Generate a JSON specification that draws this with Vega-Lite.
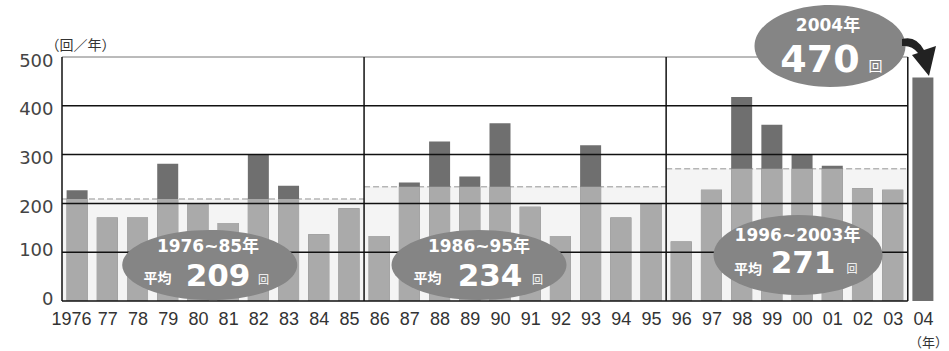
{
  "$schema": "https://vega.github.io/schema/vega-lite/v6.json",
  "width": 876,
  "height": 244,
  "autosize": {"type": "none"},
  "padding": {"left": 62, "top": 57, "right": 11, "bottom": 50},
  "background": "white",
  "config": {"view": {"stroke": null}},
  "resolve": {"axis": {"x": "independent", "y": "independent"}},
  "datasets": {
    "bars": [
      {"year": 1976, "count": 227, "avg": 209},
      {"year": 1977, "count": 171, "avg": 209},
      {"year": 1978, "count": 171, "avg": 209},
      {"year": 1979, "count": 281, "avg": 209},
      {"year": 1980, "count": 201, "avg": 209},
      {"year": 1981, "count": 160, "avg": 209},
      {"year": 1982, "count": 301, "avg": 209},
      {"year": 1983, "count": 236, "avg": 209},
      {"year": 1984, "count": 137, "avg": 209},
      {"year": 1985, "count": 190, "avg": 209},
      {"year": 1986, "count": 133, "avg": 234},
      {"year": 1987, "count": 243, "avg": 234},
      {"year": 1988, "count": 327, "avg": 234},
      {"year": 1989, "count": 255, "avg": 234},
      {"year": 1990, "count": 364, "avg": 234},
      {"year": 1991, "count": 193, "avg": 234},
      {"year": 1992, "count": 133, "avg": 234},
      {"year": 1993, "count": 319, "avg": 234},
      {"year": 1994, "count": 171, "avg": 234},
      {"year": 1995, "count": 200, "avg": 234},
      {"year": 1996, "count": 122, "avg": 271},
      {"year": 1997, "count": 228, "avg": 271},
      {"year": 1998, "count": 418, "avg": 271},
      {"year": 1999, "count": 361, "avg": 271},
      {"year": 2000, "count": 301, "avg": 271},
      {"year": 2001, "count": 277, "avg": 271},
      {"year": 2002, "count": 231, "avg": 271},
      {"year": 2003, "count": 228, "avg": 271},
      {"year": 2004, "count": 458, "avg": null}
    ],
    "periods": [
      {"start": 1975.5, "end": 1985.5, "avg": 209},
      {"start": 1985.5, "end": 1995.5, "avg": 234},
      {"start": 1995.5, "end": 2003.5, "avg": 271}
    ],
    "hgrid": [{"v": 100}, {"v": 200}, {"v": 300}, {"v": 400}, {"v": 0}],
    "vgrid": [{"v": 1975.5}, {"v": 1985.5}, {"v": 1995.5}, {"v": 2003.5}],
    "ell12": [{"x": 1980.39, "y": 73.8}, {"x": 1989.305, "y": 73.8}],
    "ell3": [{"x": 1999.866, "y": 94.3}],
    "ell4": [{"x": 2000.925, "y": 522.5}],
    "arrow": [{"x": 2003.871, "y": 497.95}],
    "captions": [
      {"x": 1980.333, "y": 100.4, "t": "1976~85年"},
      {"x": 1989.305, "y": 100.4, "t": "1986~95年"},
      {"x": 1999.849, "y": 122.0, "t": "1996~2003年"},
      {"x": 2000.859, "y": 553.3, "t": "2004年"}
    ],
    "heikin": [
      {"x": 1978.662, "y": 36.0, "t": "平均"},
      {"x": 1987.6, "y": 36.0, "t": "平均"},
      {"x": 1998.21, "y": 56.0, "t": "平均"}
    ],
    "big": [
      {"x": 1980.664, "y": 30.7, "t": "209"},
      {"x": 1989.669, "y": 30.7, "t": "234"},
      {"x": 2000.031, "y": 57.4, "t": "271"}
    ],
    "big4": [{"x": 2000.594, "y": 469.3, "t": "470"}],
    "kai": [
      {"x": 1982.171, "y": 34.0, "t": "回"},
      {"x": 1991.242, "y": 34.0, "t": "回"},
      {"x": 2001.653, "y": 58.4, "t": "回"}
    ],
    "kai4": [{"x": 2002.431, "y": 470.5, "t": "回"}]
  },
  "layer": [
    {
      "data": {"name": "periods"},
      "mark": {"type": "rect", "color": "#f4f4f4"},
      "encoding": {
        "x": {
          "field": "start", "type": "quantitative",
          "scale": {"domain": [1975.5, 2004.5], "nice": false, "zero": false, "padding": 0},
          "axis": {
            "values": [1976,1977,1978,1979,1980,1981,1982,1983,1984,1985,1986,1987,1988,1989,1990,1991,1992,1993,1994,1995,1996,1997,1998,1999,2000,2001,2002,2003,2004],
            "labelExpr": "datum.value == 1976 ? '1976' : slice('0' + (datum.value % 100), -2)",
            "labelOffset": {"condition": {"test": "datum.value == 1976", "value": -6}, "value": 0},
            "domain": false, "ticks": false, "grid": false,
            "labelFont": "Liberation Sans", "labelFontSize": 18, "labelColor": "#333",
            "labelPadding": 9, "labelOverlap": false, "labelFlush": false,
            "title": "（年）", "titleFont": "Noto Sans CJK JP", "titleFontSize": 13,
            "titleFontWeight": "normal", "titleColor": "#333",
            "titleX": 866, "titleY": 45, "titleAlign": "center", "titleBaseline": "alphabetic"
          }
        },
        "x2": {"field": "end"},
        "y": {
          "field": "avg", "type": "quantitative",
          "scale": {"domain": [0, 500], "nice": false, "zero": true, "padding": 0},
          "axis": {
            "values": [0, 100, 200, 300, 400, 500],
            "domain": false, "ticks": false, "grid": false,
            "labelFont": "DejaVu Sans", "labelFontSize": 18, "labelColor": "#444",
            "labelPadding": 9,
            "labelOffset": {"condition": {"test": "datum.value >= 200", "value": 4}, "value": -2},
            "title": "（回／年）", "titleAngle": 0, "titleFont": "Noto Sans CJK JP",
            "titleFontSize": 14, "titleFontWeight": "normal", "titleColor": "#333",
            "titleX": -17, "titleY": -8, "titleAlign": "left", "titleBaseline": "alphabetic"
          }
        },
        "y2": {"datum": 0}
      }
    },
    {
      "data": {"name": "periods"},
      "mark": {"type": "rule", "color": "#b5b5b5", "strokeWidth": 1.5, "strokeDash": [6, 3]},
      "encoding": {
        "x": {"field": "start", "type": "quantitative", "axis": null},
        "x2": {"field": "end"},
        "y": {"field": "avg", "type": "quantitative", "axis": null}
      }
    },
    {
      "data": {"name": "bars"},
      "mark": {"type": "bar", "color": "#6f6f6f", "width": 21},
      "encoding": {
        "x": {"field": "year", "type": "quantitative", "axis": null},
        "y": {"field": "count", "type": "quantitative", "axis": null},
        "y2": {"datum": 0}
      }
    },
    {
      "data": {"name": "bars"},
      "transform": [{"filter": "datum.avg != null && datum.count >= datum.avg"}],
      "mark": {"type": "bar", "color": "#aaaaaa", "width": 21},
      "encoding": {
        "x": {"field": "year", "type": "quantitative", "axis": null},
        "y": {"field": "avg", "type": "quantitative", "axis": null},
        "y2": {"datum": 0}
      }
    },
    {
      "data": {"name": "bars"},
      "transform": [{"filter": "datum.avg != null && datum.count < datum.avg"}],
      "mark": {"type": "bar", "color": "#aaaaaa", "width": 21},
      "encoding": {
        "x": {"field": "year", "type": "quantitative", "axis": null},
        "y": {"field": "count", "type": "quantitative", "axis": null},
        "y2": {"datum": 0}
      }
    },
    {
      "data": {"name": "hgrid"},
      "mark": {"type": "rule", "color": "#111", "strokeWidth": 1.5},
      "encoding": {
        "x": {"datum": 1975.5, "type": "quantitative", "axis": null},
        "x2": {"datum": 2003.5},
        "y": {"field": "v", "type": "quantitative", "axis": null}
      }
    },
    {
      "data": {"values": [{"v": 500}]},
      "mark": {"type": "rule", "color": "#777", "strokeWidth": 1},
      "encoding": {
        "x": {"datum": 1975.5, "type": "quantitative", "axis": null},
        "x2": {"datum": 2003.5},
        "y": {"field": "v", "type": "quantitative", "axis": null}
      }
    },
    {
      "data": {"name": "vgrid"},
      "mark": {"type": "rule", "color": "#111", "strokeWidth": 1.5},
      "encoding": {
        "x": {"field": "v", "type": "quantitative", "axis": null},
        "y": {"datum": 0, "type": "quantitative", "axis": null},
        "y2": {"datum": 500}
      }
    },
    {
      "data": {"name": "ell12"},
      "mark": {"type": "point", "filled": true, "color": "#858585", "opacity": 1, "strokeWidth": 0, "size": 30625,
        "shape": "M -1 0 C -1 -0.2209 -0.5523 -0.4 0 -0.4 C 0.5523 -0.4 1 -0.2209 1 0 C 1 0.2209 0.5523 0.4 0 0.4 C -0.5523 0.4 -1 0.2209 -1 0 Z"},
      "encoding": {
        "x": {"field": "x", "type": "quantitative", "axis": null},
        "y": {"field": "y", "type": "quantitative", "axis": null}
      }
    },
    {
      "data": {"name": "ell3"},
      "mark": {"type": "point", "filled": true, "color": "#858585", "opacity": 1, "strokeWidth": 0, "size": 28561,
        "shape": "M -1 0 C -1 -0.2613 -0.5523 -0.473 0 -0.473 C 0.5523 -0.473 1 -0.2613 1 0 C 1 0.2613 0.5523 0.473 0 0.473 C -0.5523 0.473 -1 0.2613 -1 0 Z"},
      "encoding": {
        "x": {"field": "x", "type": "quantitative", "axis": null},
        "y": {"field": "y", "type": "quantitative", "axis": null}
      }
    },
    {
      "data": {"name": "ell4"},
      "mark": {"type": "point", "filled": true, "color": "#858585", "opacity": 1, "strokeWidth": 0, "size": 22801,
        "shape": "M -1 0 C -1 -0.2999 -0.5523 -0.543 0 -0.543 C 0.5523 -0.543 1 -0.2999 1 0 C 1 0.2999 0.5523 0.543 0 0.543 C -0.5523 0.543 -1 0.2999 -1 0 Z"},
      "encoding": {
        "x": {"field": "x", "type": "quantitative", "axis": null},
        "y": {"field": "y", "type": "quantitative", "axis": null}
      }
    },
    {
      "data": {"name": "arrow"},
      "mark": {"type": "point", "filled": true, "color": "#222", "opacity": 1, "strokeWidth": 0, "size": 1600,
        "shape": "M -0.85 -0.95 Q -0.15 -1.15 0.25 -0.4 L 0.85 -0.6 L 0.5 0.9 L -0.35 -0.15 L -0.05 -0.25 Q -0.35 -0.65 -0.85 -0.6 Z"},
      "encoding": {
        "x": {"field": "x", "type": "quantitative", "axis": null},
        "y": {"field": "y", "type": "quantitative", "axis": null}
      }
    },
    {
      "data": {"name": "captions"},
      "mark": {"type": "text", "color": "white", "font": "DejaVu Sans, Noto Sans CJK JP", "fontWeight": "bold", "fontSize": 17, "align": "center", "baseline": "alphabetic"},
      "encoding": {
        "x": {"field": "x", "type": "quantitative", "axis": null},
        "y": {"field": "y", "type": "quantitative", "axis": null},
        "text": {"field": "t"}
      }
    },
    {
      "data": {"name": "heikin"},
      "mark": {"type": "text", "color": "white", "font": "Noto Sans CJK JP", "fontWeight": "bold", "fontSize": 14, "align": "center", "baseline": "alphabetic"},
      "encoding": {
        "x": {"field": "x", "type": "quantitative", "axis": null},
        "y": {"field": "y", "type": "quantitative", "axis": null},
        "text": {"field": "t"}
      }
    },
    {
      "data": {"name": "big"},
      "mark": {"type": "text", "color": "white", "font": "DejaVu Sans", "fontWeight": "bold", "fontSize": 31, "align": "center", "baseline": "alphabetic"},
      "encoding": {
        "x": {"field": "x", "type": "quantitative", "axis": null},
        "y": {"field": "y", "type": "quantitative", "axis": null},
        "text": {"field": "t"}
      }
    },
    {
      "data": {"name": "big4"},
      "mark": {"type": "text", "color": "white", "font": "DejaVu Sans", "fontWeight": "bold", "fontSize": 38, "align": "center", "baseline": "alphabetic"},
      "encoding": {
        "x": {"field": "x", "type": "quantitative", "axis": null},
        "y": {"field": "y", "type": "quantitative", "axis": null},
        "text": {"field": "t"}
      }
    },
    {
      "data": {"name": "kai"},
      "mark": {"type": "text", "color": "white", "font": "Noto Sans CJK JP", "fontSize": 11, "align": "center", "baseline": "alphabetic"},
      "encoding": {
        "x": {"field": "x", "type": "quantitative", "axis": null},
        "y": {"field": "y", "type": "quantitative", "axis": null},
        "text": {"field": "t"}
      }
    },
    {
      "data": {"name": "kai4"},
      "mark": {"type": "text", "color": "white", "font": "Noto Sans CJK JP", "fontSize": 14, "align": "center", "baseline": "alphabetic"},
      "encoding": {
        "x": {"field": "x", "type": "quantitative", "axis": null},
        "y": {"field": "y", "type": "quantitative", "axis": null},
        "text": {"field": "t"}
      }
    }
  ]
}
